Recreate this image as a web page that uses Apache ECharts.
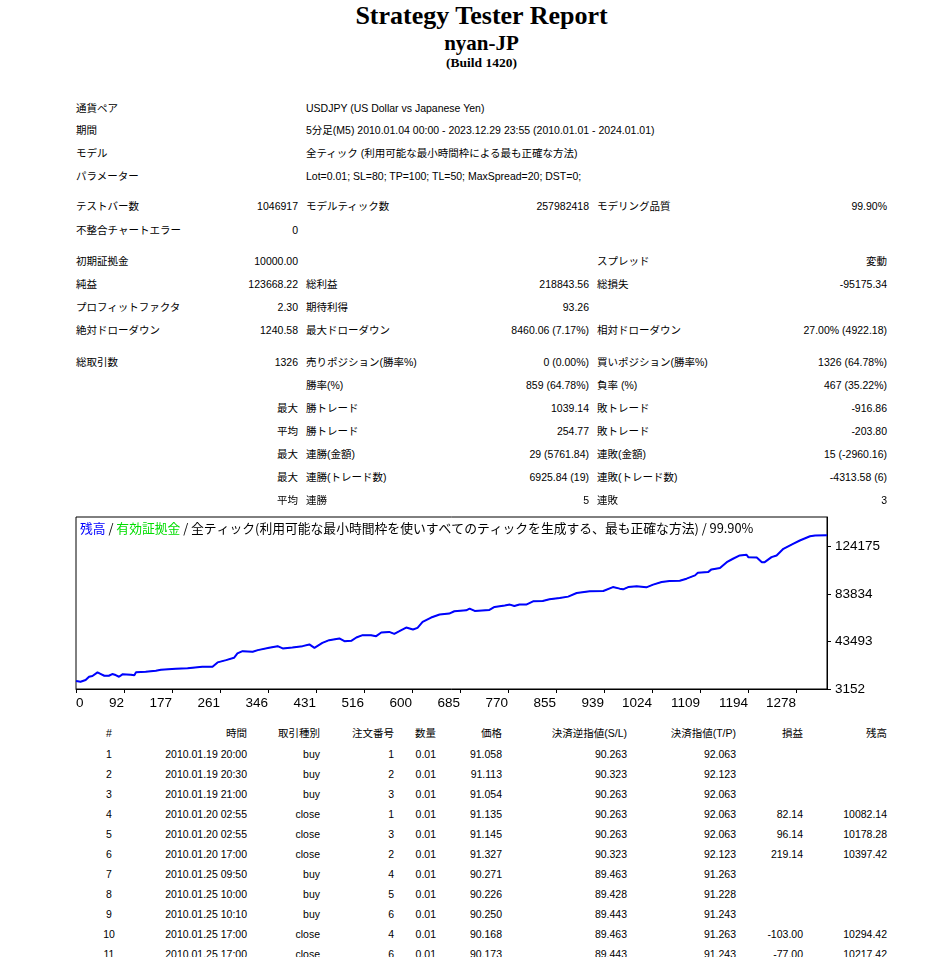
<!DOCTYPE html>
<html><head><meta charset="utf-8">
<script src="https://cdn.jsdelivr.net/npm/echarts@6/dist/echarts.min.js"></script>
<style>
html,body{margin:0;padding:0;width:945px;height:957px;overflow:hidden;background:#fff}
#page{position:relative;width:945px;height:957px;overflow:hidden}
.t{position:absolute;white-space:nowrap;font-family:"Liberation Sans","Noto Sans CJK JP",sans-serif;font-size:10.5px;line-height:14px;color:#000}
.h{position:absolute;left:76px;width:811px;text-align:center;font-family:"Liberation Serif","DejaVu Serif",serif;font-weight:bold;white-space:nowrap;color:#000}
#chart{position:absolute;left:0;top:500px;width:945px;height:220px}
</style></head><body><div id="page">
<div class="h" style="top:1px;font-size:26px;line-height:30px">Strategy Tester Report</div>
<div class="h" style="top:31px;font-size:21px;line-height:24px">nyan-JP</div>
<div class="h" style="top:55px;font-size:13.5px;line-height:16px">(Build 1420)</div>
<div id="chart"></div>
</div>
<script>
// ---- summary table ----
const summaryRows = [
  [108, [['通貨ペア',76,'l'],['USDJPY (US Dollar vs Japanese Yen)',306,'l']]],
  [130, [['期間',76,'l'],['5分足(M5) 2010.01.04 00:00 - 2023.12.29 23:55 (2010.01.01 - 2024.01.01)',306,'l']]],
  [153, [['モデル',76,'l'],['全ティック (利用可能な最小時間枠による最も正確な方法)',306,'l']]],
  [176, [['パラメーター',76,'l'],['Lot=0.01; SL=80; TP=100; TL=50; MaxSpread=20; DST=0;',306,'l']]],
  [206, [['テストバー数',76,'l'],['1046917',298,'r'],['モデルティック数',306,'l'],['257982418',589,'r'],['モデリング品質',597,'l'],['99.90%',887,'r']]],
  [230, [['不整合チャートエラー',76,'l'],['0',298,'r']]],
  [261, [['初期証拠金',76,'l'],['10000.00',298,'r'],['スプレッド',597,'l'],['変動',887,'r']]],
  [284, [['純益',76,'l'],['123668.22',298,'r'],['総利益',306,'l'],['218843.56',589,'r'],['総損失',597,'l'],['-95175.34',887,'r']]],
  [307, [['プロフィットファクタ',76,'l'],['2.30',298,'r'],['期待利得',306,'l'],['93.26',589,'r']]],
  [330, [['絶対ドローダウン',76,'l'],['1240.58',298,'r'],['最大ドローダウン',306,'l'],['8460.06 (7.17%)',589,'r'],['相対ドローダウン',597,'l'],['27.00% (4922.18)',887,'r']]],
  [362, [['総取引数',76,'l'],['1326',298,'r'],['売りポジション(勝率%)',306,'l'],['0 (0.00%)',589,'r'],['買いポジション(勝率%)',597,'l'],['1326 (64.78%)',887,'r']]],
  [385, [['勝率(%)',306,'l'],['859 (64.78%)',589,'r'],['負率 (%)',597,'l'],['467 (35.22%)',887,'r']]],
  [408, [['最大',298,'r'],['勝トレード',306,'l'],['1039.14',589,'r'],['敗トレード',597,'l'],['-916.86',887,'r']]],
  [431, [['平均',298,'r'],['勝トレード',306,'l'],['254.77',589,'r'],['敗トレード',597,'l'],['-203.80',887,'r']]],
  [454, [['最大',298,'r'],['連勝(金額)',306,'l'],['29 (5761.84)',589,'r'],['連敗(金額)',597,'l'],['15 (-2960.16)',887,'r']]],
  [477, [['最大',298,'r'],['連勝(トレード数)',306,'l'],['6925.84 (19)',589,'r'],['連敗(トレード数)',597,'l'],['-4313.58 (6)',887,'r']]],
  [500, [['平均',298,'r'],['連勝',306,'l'],['5',589,'r'],['連敗',597,'l'],['3',887,'r']]]
];

// ---- trade list ----
const tradeHeader = ['#','時間','取引種別','注文番号','数量','価格','決済逆指値(S/L)','決済指値(T/P)','損益','残高'];
const trades = [
  ['1','2010.01.19 20:00','buy','1','0.01','91.058','90.263','92.063','',''],
  ['2','2010.01.19 20:30','buy','2','0.01','91.113','90.323','92.123','',''],
  ['3','2010.01.19 21:00','buy','3','0.01','91.054','90.263','92.063','',''],
  ['4','2010.01.20 02:55','close','1','0.01','91.135','90.263','92.063','82.14','10082.14'],
  ['5','2010.01.20 02:55','close','3','0.01','91.145','90.263','92.063','96.14','10178.28'],
  ['6','2010.01.20 17:00','close','2','0.01','91.327','90.323','92.123','219.14','10397.42'],
  ['7','2010.01.25 09:50','buy','4','0.01','90.271','89.463','91.263','',''],
  ['8','2010.01.25 10:00','buy','5','0.01','90.226','89.428','91.228','',''],
  ['9','2010.01.25 10:10','buy','6','0.01','90.250','89.443','91.243','',''],
  ['10','2010.01.25 17:00','close','4','0.01','90.168','89.463','91.263','-103.00','10294.42'],
  ['11','2010.01.25 17:00','close','6','0.01','90.173','89.443','91.243','-77.00','10217.42']
];
const tradeColRight = [109,247,320,394,436,502,627,736,803,887];

// ---- chart data ----
const tradeIdx = [0,8,17,23,29,38,44,50,58,64,70,76,82,97,103,106,123,141,150,176,197,223,241,250,265,279,285,294,312,321,341,356,365,382,400,412,421,435,447,465,474,486,495,506,521,530,539,553,562,571,583,595,603,612,627,642,659,668,689,695,704,730,739,757,766,774,783,795,807,824,836,854,869,884,907,931,934,948,960,966,975,990,1007,1019,1034,1048,1066,1078,1093,1098,1116,1122,1137,1149,1160,1172,1184,1187,1202,1211,1216,1228,1231,1237,1249,1266,1278,1296,1305,1326];
const balance = [10000,9330,10770,13560,14150,17280,15850,14410,14410,15850,15000,13560,15590,15250,14750,17280,17790,18640,19480,20330,20670,22020,22020,25750,27690,29640,33360,35310,34720,36150,38100,39540,37590,38440,39540,40980,38100,42330,44620,46050,43770,44020,46900,48850,48850,48000,51130,51640,49950,52230,55360,53670,55020,60100,63820,66360,67210,69160,70000,71440,69410,70260,72800,73980,74830,73640,74830,74830,77620,77870,79310,80410,81600,84640,86080,86330,86930,89720,88360,87770,89720,90310,89460,91750,93950,94800,95130,96830,99620,101900,102410,104700,105800,110870,113750,116540,117140,115100,114850,110870,110870,115100,114260,116540,122210,126440,129240,132870,133500,133668];
const xTickLabels = ['0','92','177','261','346','431','516','600','685','770','855','939','1024','1109','1194','1278'];
const yTickValues = [3152,43493,83834,124175];
const chartTitle = '{b|残高} / {g|有効証拠金} / 全ティック(利用可能な最小時間枠を使いすべてのティックを生成する、最も正確な方法) / 99.90%';

const page = document.getElementById('page');
function put(text, x, y, align){
  const d = document.createElement('div');
  d.className = 't';
  d.textContent = text;
  d.style.top = (y - 7) + 'px';
  if (align === 'r') d.style.right = (945 - x) + 'px';
  else if (align === 'c') { d.style.left = (x - 20) + 'px'; d.style.width = '40px'; d.style.textAlign = 'center'; }
  else d.style.left = x + 'px';
  page.appendChild(d);
}
summaryRows.forEach(([y, cells]) => cells.forEach(([t, x, a]) => put(t, x, y, a)));
tradeHeader.forEach((t, i) => put(t, tradeColRight[i], 733, i === 0 ? 'c' : 'r'));
trades.forEach((row, r) => row.forEach((t, i) => { if (t !== '') put(t, tradeColRight[i], 754 + r * 20, i === 0 ? 'c' : 'r'); }));

const chart = echarts.init(document.getElementById('chart'), null, {renderer: 'canvas'});
const seriesData = tradeIdx.map((x, i) => [x, balance[i]]);
const xStep = 84.75;
chart.setOption({
  animation: false,
  title: {
    text: chartTitle, left: 80, top: 22, padding: 0,
    textStyle: {fontSize: 12.8, fontWeight: 'normal', color: '#000', fontFamily: 'Noto Sans CJK JP',
      rich: {b: {color: '#0000ff', fontSize: 12.8, fontFamily: 'Noto Sans CJK JP'},
             g: {color: '#00dd00', fontSize: 12.8, fontFamily: 'Noto Sans CJK JP'}}}
  },
  grid: {left: 76, top: 17, width: 751, height: 172, show: true, borderColor: '#000', borderWidth: 1, containLabel: false},
  xAxis: {
    type: 'value', min: 0, max: 1326, interval: xStep,
    axisLine: {show: true, onZero: false, lineStyle: {color: '#000', width: 1}},
    axisTick: {show: true, length: 4, lineStyle: {color: '#000'}},
    splitLine: {show: false},
    axisLabel: {
      color: '#000', fontSize: 13.5, fontFamily: 'Liberation Sans', margin: 7, align: 'right',
      alignMinLabel: 'left', showMaxLabel: false,
      formatter: v => { const k = Math.round(v / xStep); return (Math.abs(v - k * xStep) < 0.5 && xTickLabels[k] !== undefined) ? xTickLabels[k] : ''; }
    }
  },
  yAxis: {
    type: 'value', position: 'right', min: 3152, max: 149200,
    axisLine: {show: true, onZero: false, lineStyle: {color: '#000', width: 1}},
    axisTick: {show: true, length: 4, customValues: yTickValues, lineStyle: {color: '#000'}},
    splitLine: {show: false},
    axisLabel: {color: '#000', fontSize: 13.5, fontFamily: 'Liberation Sans', margin: 8, customValues: yTickValues,
      formatter: v => String(Math.round(v))}
  },
  series: [
    {name: '有効証拠金', type: 'line', data: seriesData, showSymbol: false, lineStyle: {color: '#00ff00', width: 1}, z: 1},
    {name: '残高', type: 'line', data: seriesData, showSymbol: false, lineStyle: {color: '#0000ff', width: 2}, z: 2}
  ]
});
</script>
</body></html>
